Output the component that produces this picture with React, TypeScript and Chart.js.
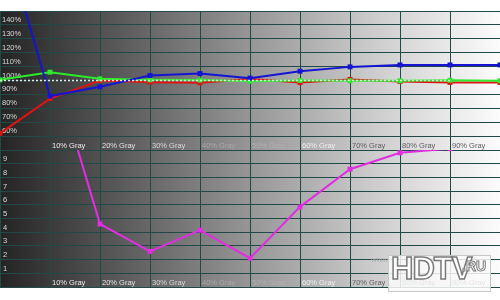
import React, { useEffect, useRef } from 'react';
import { Chart, registerables } from 'chart.js';

Chart.register(...registerables);

// ---- data ----
const categories = ['0%', '10% Gray', '20% Gray', '30% Gray', '40% Gray', '50% Gray', '60% Gray', '70% Gray', '80% Gray', '90% Gray', '100%'];
const redBalance = [62, 87, 100, 98.8, 98.3, 101, 98.5, 100.8, 99.3, 98.6, 98.6];
const greenBalance = [100.5, 106, 101.2, 100.5, 100.3, 99.5, 100, 99.8, 99.8, 100.2, 99.8];
const blueBalance = [213, 88.8, 95.5, 103.6, 105, 101.7, 106.7, 109.8, 111.2, 111.2, 111.2];
const referenceLevel = [100, 100, 100, 100, 100, 100, 100, 100, 100, 100, null];
const deltaE = [null, 16.8, 4.6, 2.6, 4.15, 2.1, 5.85, 8.6, 9.8, 10.1, null];
const balanceRange = [50, 150];
const deltaRange = [0, 10];
const xLabelColors = ['#e0e0e0', '#e8e8e8', '#e0e0e0', '#d8d8d8', '#a8a8a8', '#b0b0b0', '#f0f0f0', '#606060', '#606060', '#606060', '#606060'];

const FONT = { family: '"Liberation Sans", Arial, sans-serif', size: 7.5 };
const GRID = '#1f4a48';

const gradientPlugin = {
  id: 'grayRamp',
  beforeDraw(chart: any) {
    const { ctx, chartArea } = chart;
    const g = ctx.createLinearGradient(chartArea.left, 0, chartArea.right, 0);
    g.addColorStop(0, '#242424');
    g.addColorStop(0.25, '#5c5c5c');
    g.addColorStop(0.5, '#969696');
    g.addColorStop(0.75, '#cdcdcd');
    g.addColorStop(1, '#fcfcfc');
    ctx.save();
    ctx.fillStyle = g;
    ctx.fillRect(chartArea.left, chartArea.top, chartArea.right - chartArea.left, chartArea.bottom - chartArea.top);
    ctx.restore();
  },
};

function zeroPad(s: any) {
  s.paddingTop = 0;
  s.paddingBottom = 0;
  s.paddingLeft = 0;
  s.paddingRight = 0;
}

function xScale() {
  return {
    type: 'category',
    offset: false,
    grid: { color: GRID, lineWidth: 1, drawTicks: false },
    border: { display: false },
    ticks: {
      autoSkip: false,
      maxRotation: 0,
      minRotation: 0,
      align: 'start',
      mirror: true,
      labelOffset: 2,
      padding: 0,
      font: FONT,
      color: (c: any) => xLabelColors[c.index] || '#888',
      callback: (_v: any, i: number) => (i === 0 || i === categories.length - 1 ? '' : categories[i]),
    },
    afterFit: (s: any) => {
      s.height = 0;
      zeroPad(s);
    },
  };
}

function line(label: string, data: any[], color: string, order: number, extra: any = {}) {
  return {
    label,
    data,
    borderColor: color,
    backgroundColor: color,
    borderWidth: 2,
    pointStyle: 'rect',
    pointRadius: 3.5,
    pointBorderWidth: 0,
    pointBackgroundColor: color,
    tension: 0,
    clip: 0,
    order,
    spanGaps: false,
    ...extra,
  };
}

export default function App() {
  const topRef = useRef<HTMLCanvasElement>(null);
  const botRef = useRef<HTMLCanvasElement>(null);

  useEffect(() => {
    const top = new Chart(topRef.current!, {
      type: 'line',
      data: {
        labels: categories,
        datasets: [
          line('Reference', referenceLevel, '#e8e8e8', 0, { borderWidth: 1.5, borderDash: [2, 2], pointRadius: 0 }),
          line('Blue', blueBalance, '#1414d2', 1),
          line('Green', greenBalance, '#2eea2e', 2),
          line('Red', redBalance, '#dc1414', 3),
        ],
      },
      options: {
        animation: false,
        responsive: false,
        events: [],
        layout: { autoPadding: false, padding: { top: 11, bottom: 0, left: 0, right: 0 } },
        plugins: { legend: { display: false }, tooltip: { enabled: false } },
        scales: {
          x: xScale() as any,
          y: {
            min: balanceRange[0],
            max: balanceRange[1],
            grid: { color: GRID, lineWidth: 1, drawTicks: false },
            border: { display: false },
            ticks: {
              stepSize: 10,
              mirror: true,
              padding: 2,
              labelOffset: -5,
              font: FONT,
              color: '#d8d8d8',
              callback: (v: any) => (v === balanceRange[0] || v === balanceRange[1] ? '' : v + '%'),
            },
            afterFit: (s: any) => {
              s.width = 0;
              zeroPad(s);
            },
          },
        },
      },
      plugins: [gradientPlugin],
    });

    const bottom = new Chart(botRef.current!, {
      type: 'line',
      data: {
        labels: categories,
        datasets: [line('dE', deltaE, '#e02ee0', 0)],
      },
      options: {
        animation: false,
        responsive: false,
        events: [],
        layout: { autoPadding: false, padding: { top: 0, bottom: 13, left: 0, right: 0 } },
        plugins: { legend: { display: false }, tooltip: { enabled: false } },
        scales: {
          x: xScale() as any,
          y: {
            min: deltaRange[0],
            max: deltaRange[1],
            grid: { color: GRID, lineWidth: 1, drawTicks: false },
            border: { display: false },
            ticks: {
              stepSize: 1,
              mirror: true,
              padding: 3,
              labelOffset: -4.5,
              font: FONT,
              color: '#d8d8d8',
              callback: (v: any) => (v === deltaRange[0] || v === deltaRange[1] ? '' : String(v)),
            },
            afterFit: (s: any) => {
              s.width = 0;
              zeroPad(s);
            },
          },
        },
      },
      plugins: [gradientPlugin],
    });

    return () => {
      top.destroy();
      bottom.destroy();
    };
  }, []);

  return (
    <div style={{ position: 'absolute', left: 0, top: 0, width: 500, height: 300, background: '#fff', overflow: 'hidden' }}>
      <canvas ref={topRef} width={500} height={150} style={{ position: 'absolute', left: 0, top: 0 }} />
      <canvas ref={botRef} width={500} height={150} style={{ position: 'absolute', left: 0, top: 150 }} />
      <div style={{ position: 'absolute', left: 371, top: 255, font: '8px "Liberation Sans", Arial, sans-serif', color: '#b0b0b0' }}>www.</div>
      <div
        style={{
          position: 'absolute',
          left: 388,
          top: 255,
          width: 101,
          height: 35,
          background: 'rgba(250,250,250,0.85)',
          border: '1px solid #c8c8c8',
        }}
      />
      <div
        style={{
          position: 'absolute',
          left: 391,
          top: 251,
          font: '900 31px "Liberation Sans", Arial, sans-serif',
          color: '#ffffff',
          WebkitTextStroke: '1.5px #7a7a7a',
          letterSpacing: -1,
        }}
      >
        HDTV
      </div>
      <div
        style={{
          position: 'absolute',
          left: 462,
          top: 258,
          font: 'bold 14px "Liberation Sans", Arial, sans-serif',
          color: '#ffffff',
          WebkitTextStroke: '1px #7a7a7a',
        }}
      >
        .RU
      </div>
    </div>
  );
}
